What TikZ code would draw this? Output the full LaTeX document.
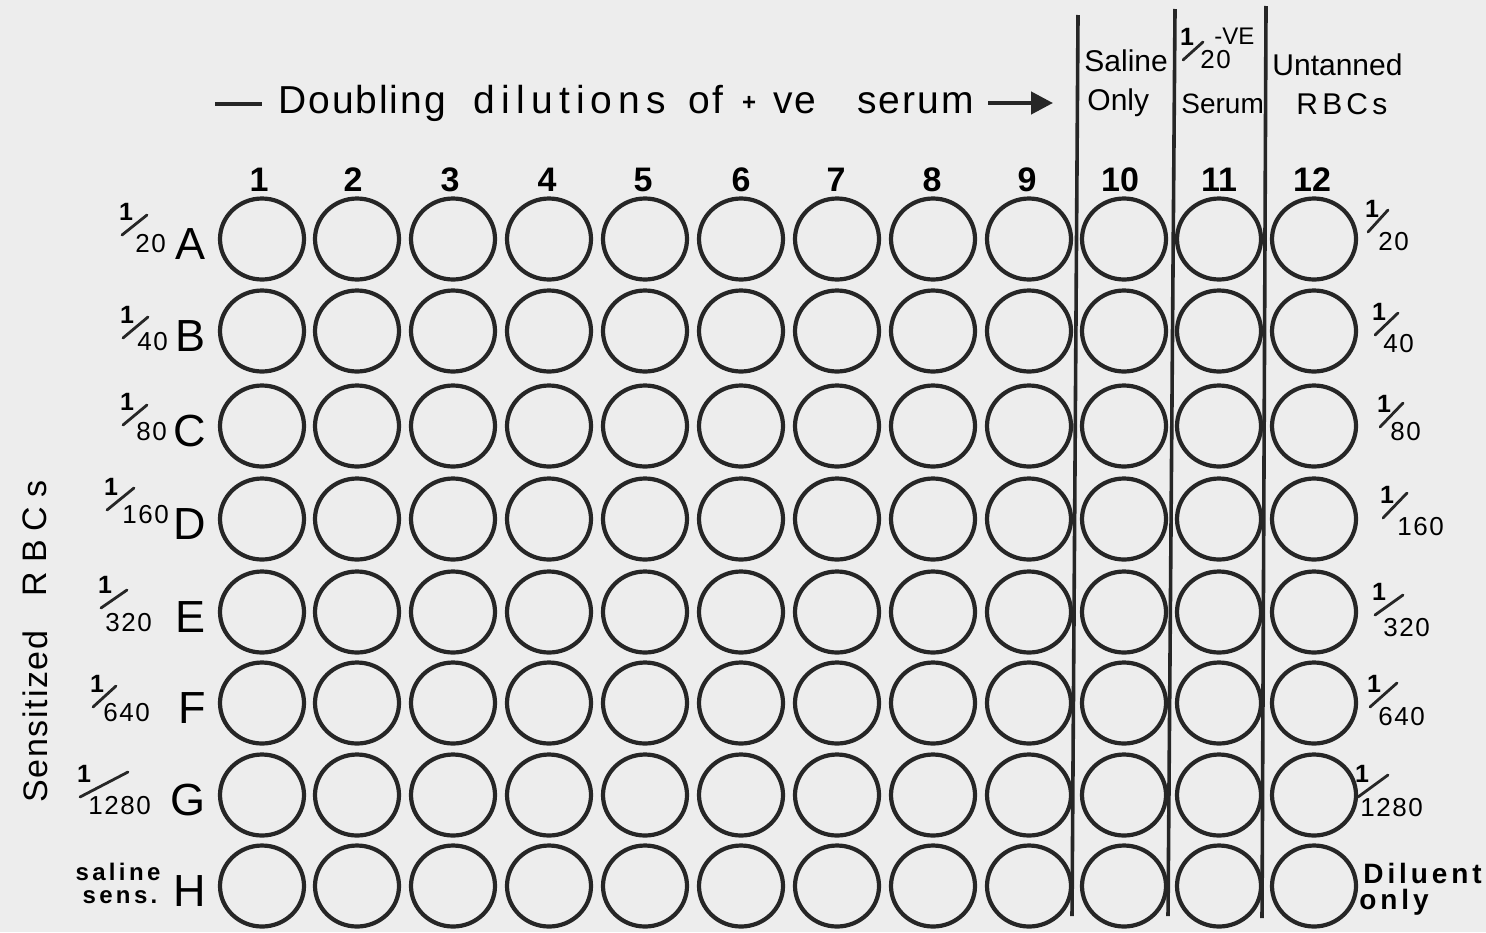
\documentclass[tikz,border=0pt]{standalone}
\usepackage{fontspec}
\setmainfont{Liberation Sans}
\newfontfamily\hdfont[LetterSpace=5]{Liberation Sans}
\newfontfamily\hdfontw[LetterSpace=16]{Liberation Sans}
\newfontfamily\denfont[LetterSpace=6]{Liberation Sans}
\newfontfamily\smfont[LetterSpace=14]{Liberation Sans}
\newfontfamily\sidefontA[LetterSpace=5]{Liberation Sans}
\newfontfamily\sidefontB[LetterSpace=27]{Liberation Sans}
\usetikzlibrary{arrows.meta,shapes.geometric}
% fraction: name, slash bottom x,y, slash top x,y, denominator west x,y, denominator
\newcommand{\fracmark}[8]{%
  \coordinate (#1s) at (#2,#3);
  \coordinate (#1t) at (#4,#5);
  \draw[slashln] (#1s) -- (#1t);
  \node[fnum] (#1n) at (#2+4,#3-23) {1};
  \node[fden,anchor=west] (#1d) at (#6,#7) {#8};}
\begin{document}
\begin{tikzpicture}[x=0.5pt,y=-0.5pt,
  well/.style={ellipse,draw=black!85,line width=2.1pt,minimum width=42pt,minimum height=40.5pt,inner sep=0pt},
  rowlet/.style={font=\fontsize{22.5}{24}\selectfont,inner sep=0pt,anchor=east},
  fnum/.style={font=\fontsize{12.5}{14}\selectfont\bfseries,inner sep=0pt},
  fden/.style={font=\fontsize{13}{15}\selectfont\denfont,inner sep=0pt},
  slashln/.style={line width=1.4pt,draw=black!85,line cap=round},
  colnum/.style={font=\fontsize{17}{20}\selectfont\bfseries,inner sep=0pt},
  head/.style={font=\fontsize{15}{17}\selectfont,inner sep=0pt},
  word/.style={font=\fontsize{19.5}{22}\selectfont\hdfont,inner sep=0pt,anchor=base west},
  divider/.style={line width=1.8pt,draw=black!85}]
\fill[black!7] (0,0) rectangle (1486,932);
\useasboundingbox (0,0) rectangle (1486,932);
% header
\coordinate (dashL) at (215,104);
\coordinate (dashR) at (262,104);
\draw[line width=2.2pt,draw=black!85] (dashL) -- (dashR);
\node[word] (t1) at (278,113) {Doubling};
\node[word,font=\fontsize{19.5}{22}\selectfont\hdfontw] (t2) at (473,113) {dilutions};
\node[word] (t3) at (688,113) {of};
\node[font=\fontsize{12}{14}\selectfont\bfseries,inner sep=0pt] (t4) at (749,103) {+};
\node[word] (t5) at (773,113) {ve};
\node[word] (t6) at (857,113) {serum};
\coordinate (arrS) at (988,103);
\coordinate (arrE) at (1053,103);
\draw[line width=2.2pt,draw=black!85,-{Triangle[length=11pt,width=11pt]}] (arrS) -- (arrE);
% column numbers and wells
\foreach \c/\x/\nx in {1/262/259,2/357/353,3/453/450,4/549/547,5/645/643,6/741/741,7/837/836,8/933/932,9/1029/1027,10/1124/1120,11/1219/1219,12/1314/1312}{
  \node[colnum] (n\c) at (\nx,180) {\c};
  \foreach \r/\y in {A/239,B/331,C/426,D/519,E/612,F/703,G/795,H/886}{
    \node[well] (w\r\c) at (\x,\y) {};
  }
}
% row letters
\foreach \r/\y in {A/239,B/331,C/426,D/519,E/612,F/703,G/795,H/886}{
  \node[rowlet] (L\r) at (206,\y+5) {\r};
}
% left fractions
\fracmark{la}{122}{235}{147}{215}{135}{244}{20}
\fracmark{lb}{123}{338}{148}{317}{137}{342}{40}
\fracmark{lc}{123}{425}{147}{405}{136}{432}{80}
\fracmark{ld}{107}{510}{134}{488}{122}{515}{160}
\fracmark{le}{101}{608}{127}{590}{105}{623}{320}
\fracmark{lf}{93}{707}{116}{686}{103}{713}{640}
\fracmark{lg}{80}{797}{128}{772}{88}{806}{1280}
\node[inner sep=0pt,align=center,font=\fontsize{12}{14}\selectfont\bfseries\smfont] (lh1) at (118,872) {saline};
\node[inner sep=0pt,align=center,font=\fontsize{12}{14}\selectfont\bfseries\smfont] (lh2) at (120,897) {sens.};
% right fractions
\fracmark{ra}{1368}{232}{1388}{210}{1378}{242}{20}
\fracmark{rb}{1375}{335}{1398}{313}{1383}{344}{40}
\fracmark{rc}{1380}{427}{1403}{403}{1390}{432}{80}
\fracmark{rd}{1383}{518}{1407}{493}{1397}{527}{160}
\fracmark{re}{1375}{615}{1403}{595}{1383}{628}{320}
\fracmark{rf}{1370}{707}{1397}{683}{1378}{717}{640}
\fracmark{rg}{1358}{797}{1388}{775}{1360}{808}{1280}
\node[inner sep=0pt,anchor=west,font=\fontsize{14}{16}\selectfont\bfseries\smfont] (rh1) at (1363,873) {Diluent};
\node[inner sep=0pt,anchor=west,font=\fontsize{14}{16}\selectfont\bfseries\smfont] (rh2) at (1359,902) {only};
% dividers
\coordinate (d1t) at (1078,15); \coordinate (d1b) at (1072,916);
\coordinate (d2t) at (1175,9); \coordinate (d2b) at (1168,916);
\coordinate (d3t) at (1266,6); \coordinate (d3b) at (1262,918);
\draw[divider] (d1t) -- (d1b);
\draw[divider] (d2t) -- (d2b);
\draw[divider] (d3t) -- (d3b);
% column headers
\node[head,anchor=west] (h10a) at (1084,61) {Saline};
\node[head,anchor=west] (h10b) at (1087,103) {Only};
\fracmark{hf}{1183}{60}{1203}{42}{1200}{60}{20}
\node[inner sep=0pt,anchor=west,font=\fontsize{12}{14}\selectfont] (h11c) at (1214,36) {-VE};
\node[head,anchor=west,font=\fontsize{14}{16}\selectfont] (h11b) at (1181,104) {Serum};
\node[head,anchor=west] (h12a) at (1272,65) {Untanned};
\node[head,anchor=west,font=\fontsize{15}{17}\selectfont\smfont] (h12b) at (1296,104) {RBCs};
% side label
\node[rotate=90,inner sep=0pt,anchor=west] (side1) at (35,803) {\fontsize{17}{19}\selectfont\sidefontA Sensitized};
\node[rotate=90,inner sep=0pt,anchor=west] (side2) at (35,597) {\fontsize{17}{19}\selectfont\sidefontB RBCs};
\end{tikzpicture}
\end{document}
